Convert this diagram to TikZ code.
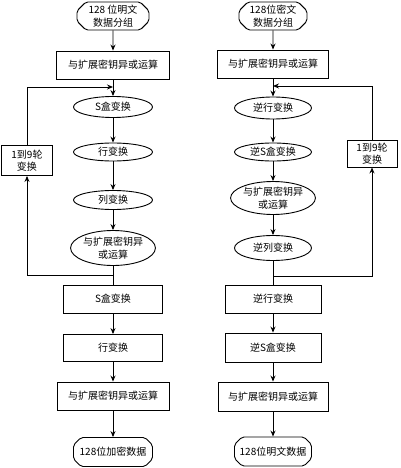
\documentclass[tikz,border=0pt]{standalone}
\usepackage{fontspec}
\newfontfamily\cjk{Noto Sans CJK SC}
\usetikzlibrary{shapes.geometric,shapes.misc,arrows.meta}
\begin{document}
\begin{tikzpicture}[x=1pt,y=-1pt,
  base/.style={draw, line width=0.9pt, font=\cjk\fontsize{10}{12.5}\selectfont, align=center, inner sep=0pt},
  boxnode/.style={base, rectangle, minimum height=28pt},
  oval/.style={base, ellipse, minimum width=79pt},
  term/.style={base, chamfered rectangle, chamfered rectangle xsep=6pt, rounded corners=2pt, minimum height=28pt},
  arr/.style={-{Stealth[length=6pt,width=5pt]}, line width=0.9pt},
  plain/.style={line width=0.9pt}]
\useasboundingbox (0,0) rectangle (400,468);
% left column
\node[term, minimum width=72pt] (ls) at (113,16) {128 位明文\\数据分组};
\node[boxnode, minimum width=113pt] (l1) at (113,65) {与扩展密钥异或运算};
\node[oval, minimum height=21pt] (l2) at (113,107) {S盒变换};
\node[oval, minimum height=18pt] (l3) at (113,152) {行变换};
\node[oval, minimum height=19pt] (l4) at (113,200) {列变换};
\node[oval, minimum height=35pt] (l5) at (113,248) {与扩展密钥异\\或运算};
\node[boxnode, minimum width=99pt] (l6) at (113,299) {S盒变换};
\node[boxnode, minimum width=99pt, minimum height=27pt] (l7) at (113,348) {行变换};
\node[boxnode, minimum width=112pt] (l8) at (113,396) {与扩展密钥异或运算};
\node[term, minimum width=79pt, minimum height=29pt] (le) at (113,452) {128位加密数据};
\node[boxnode, minimum width=51pt, minimum height=30pt] (lb) at (27,160.5) {1到9轮\\变换};
\coordinate (lj) at (113,275);
\coordinate (lt) at (113,87);
\draw[arr] (ls) -- (l1);
\draw[arr] (l1) -- (l2);
\draw[arr] (l2) -- (l3);
\draw[arr] (l3) -- (l4);
\draw[arr] (l4) -- (l5);
\draw[plain] (l5) -- (l6);
\draw[arr] (l6) -- (l7);
\draw[arr] (l7) -- (l8);
\draw[arr] (l8) -- (le);
\draw[arr] (lj) -| (lb.south);
\draw[arr] (lb.north) |- (lt);
% right column
\node[term, minimum width=68pt] (rs) at (273,16) {128位密文\\数据分组};
\node[boxnode, minimum width=111pt] (r1) at (273,64) {与扩展密钥异或运算};
\node[oval, minimum width=77pt, minimum height=22pt] (r2) at (273,108) {逆行变换};
\node[oval, minimum width=77pt, minimum height=18pt] (r3) at (273,152) {逆S盒变换};
\node[oval, minimum width=77pt, minimum height=33pt] (r4) at (273,198) {与扩展密钥异\\或运算};
\node[oval, minimum width=77pt, minimum height=25pt] (r5) at (273,248) {逆列变换};
\node[boxnode, minimum width=96pt] (r6) at (273,299) {逆行变换};
\node[boxnode, minimum width=96pt, minimum height=29pt] (r7) at (273,347.5) {逆S盒变换};
\node[boxnode, minimum width=110pt, minimum height=29pt] (r8) at (273,396.5) {与扩展密钥异或运算};
\node[term, minimum width=77pt, minimum height=29pt] (re) at (273,451.5) {128位明文数据};
\node[boxnode, minimum width=50pt, minimum height=27pt] (rb) at (372,153.5) {1到9轮\\变换};
\coordinate (rj) at (273,276);
\coordinate (rt) at (273,86);
\draw[arr] (rs) -- (r1);
\draw[arr] (r1) -- (r2);
\draw[arr] (r2) -- (r3);
\draw[arr] (r3) -- (r4);
\draw[arr] (r4) -- (r5);
\draw[plain] (r5) -- (r6);
\draw[arr] (r6) -- (r7);
\draw[arr] (r7) -- (r8);
\draw[arr] (r8) -- (re);
\draw[arr] (rj) -| (rb.south);
\draw[arr] (rb.north) |- (rt);
\end{tikzpicture}
\end{document}
